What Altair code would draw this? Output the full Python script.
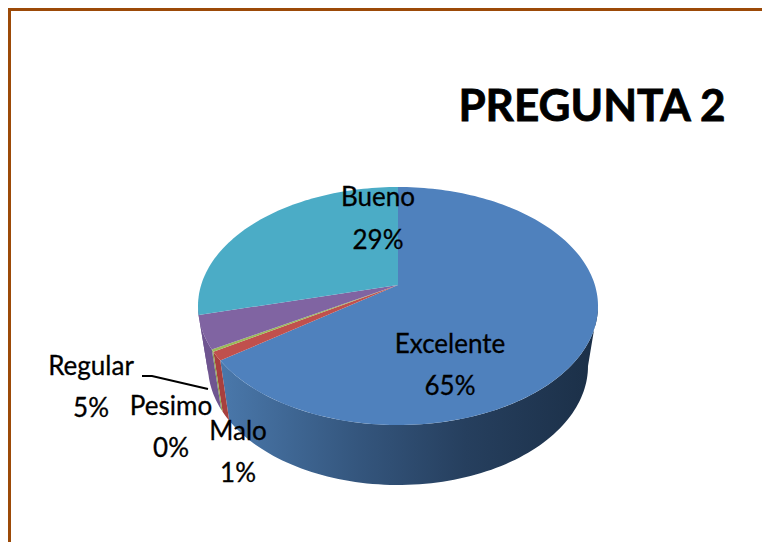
import math
import altair as alt

categories = ["Excelente", "Malo", "Pesimo", "Regular", "Bueno"]
shares = [65.0, 1.2, 0.3, 4.5, 29.0]
shown_labels = ["65%", "1%", "0%", "5%", "29%"]
top_colors = ["#4f81bd", "#c0504d", "#9bbb59", "#8064a2", "#4bacc6"]
wall_colors = ["#2f5075", "#a8403e", "#8aa64e", "#6f5590", "#6f5590"]
title_text = "PREGUNTA 2"

# layout (page pixels, converted to chart pixels by OFF)
OFF = 8
CX, APEX, FAR, NEAR, DEPTH, SHRINK = 398, 285, 187, 425, 60, 0.95
c = (2 * APEX - NEAR - FAR) / (NEAR - FAR)
a = NEAR * (1 + c) - APEX
R = 200 * math.sqrt(1 - c * c)


def rim(deg, drop=0, k=1.0):
    t = math.radians(deg)
    u, v = math.sin(t), -math.cos(t)
    w = 1 + c * v
    return [CX + k * R * u / w - OFF, (a * v + APEX) / w + drop - OFF]


def span(s, e, drop=0, k=1.0):
    n = max(2, int((e - s) / 1.5) + 1)
    return [rim(s + (e - s) * i / n, drop, k) for i in range(n + 1)]


def feature(name, fill, ring):
    return {"type": "Feature", "properties": {"name": name, "fill": fill},
            "geometry": {"type": "Polygon", "coordinates": [ring + [ring[0]]]}}


L, H = 100.2, 259.8
tops, walls = [], []
acc = 0.0
total = sum(shares)
for name, val, tc, wc in zip(categories, shares, top_colors, wall_colors):
    s, e = acc / total * 360, (acc + val) / total * 360
    acc += val
    tops.append(feature(name, tc, [[CX - OFF, APEX - OFF]] + span(s, e)))
    ws, we = max(s, L), min(e, H)
    if we > ws:
        walls.append(feature(name, wc, span(ws, we) + span(ws, we, DEPTH, SHRINK)[::-1]))

proj = dict(type="identity", scale=1, translate=[0, 0])
fill_enc = alt.Fill("properties.fill:N", scale=None, legend=None)

wall_grad = alt.Gradient(gradient="linear", x1=0, x2=1, y1=0, y2=0, stops=[
    alt.GradientStop(color="#4a78ab", offset=0),
    alt.GradientStop(color="#35577f", offset=0.35),
    alt.GradientStop(color="#263f5e", offset=0.65),
    alt.GradientStop(color="#1b2f47", offset=1),
])

wall_main = alt.Chart(alt.Data(values=[walls[0]])).mark_geoshape(
    fill=wall_grad, strokeWidth=0).project(**proj)
wall_rest = alt.Chart(alt.Data(values=walls[1:])).mark_geoshape(strokeWidth=0).encode(
    fill=fill_enc).project(**proj)
top_layer = alt.Chart(alt.Data(values=tops)).mark_geoshape(strokeWidth=0).encode(
    fill=fill_enc).project(**proj)

leader = {"type": "Feature", "properties": {},
          "geometry": {"type": "LineString", "coordinates": [
              [142 - OFF, 376 - OFF], [152 - OFF, 376 - OFF], [208 - OFF, 389 - OFF]]}}
leader_layer = alt.Chart(alt.Data(values=[leader])).mark_geoshape(
    filled=False, stroke="#000000", strokeWidth=2).project(**proj)

label_x = [450, 238, 171, 91, 378]
name_y = [345, 432, 407, 367, 198]
pct_y = [387, 474, 449, 409, 241]
rows = []
for n, p, x, y1, y2 in zip(categories, shown_labels, label_x, name_y, pct_y):
    rows.append({"t": n, "x": x - OFF, "y": y1 - OFF})
    rows.append({"t": p, "x": x - OFF, "y": y2 - OFF})

labels = alt.Chart(alt.Data(values=rows)).mark_text(
    font="Lato", fontSize=26, align="center", baseline="middle", color="#000000",
    stroke="#000000", strokeWidth=0.3
).encode(x=alt.X("x:Q", scale=None, axis=None), y=alt.Y("y:Q", scale=None, axis=None), text="t:N")

title = alt.Chart(alt.Data(values=[{"t": title_text, "x": 592 - OFF, "y": 108 - OFF}])).mark_text(
    font="Lato", fontSize=44, fontWeight="bold", align="center", baseline="middle",
    color="#000000", stroke="#000000", strokeWidth=0.8
).encode(x=alt.X("x:Q", scale=None, axis=None), y=alt.Y("y:Q", scale=None, axis=None), text="t:N")

border_left = alt.Chart(alt.Data(values=[{"a": 0}])).mark_rule(color="#9c4a08", strokeWidth=3).encode(
    x=alt.value(1.5), y=alt.value(0), y2=alt.value(534))
border_top = alt.Chart(alt.Data(values=[{"a": 0}])).mark_rule(color="#9c4a08", strokeWidth=3).encode(
    y=alt.value(1.5), x=alt.value(0), x2=alt.value(754))

chart = alt.layer(
    wall_main, wall_rest, top_layer, leader_layer, labels, title, border_left, border_top
).properties(width=754, height=534, padding=0, autosize="none", background="#ffffff"
).configure_view(stroke=None)

chart.save("out.html", embed_options={"renderer": "svg", "actions": False})
